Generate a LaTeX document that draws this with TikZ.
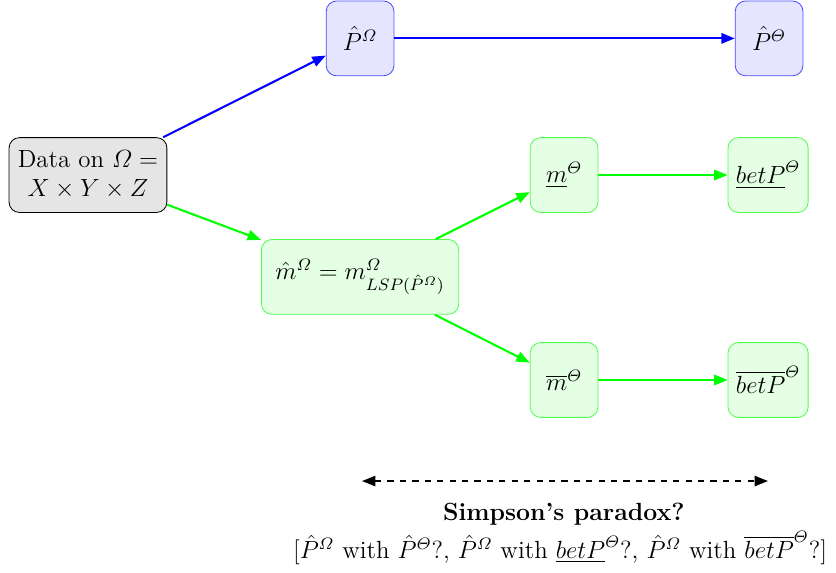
\documentclass[tikz,border=0pt]{standalone}
\usepackage{amsmath}
\usetikzlibrary{arrows.meta, positioning}

\begin{document}
\begin{tikzpicture}[
  on grid,
  every node/.style={font=\large},
  databox/.style={rectangle, rounded corners=5pt, draw, fill=gray!20,
                  minimum width=2.68cm, minimum height=1.27cm, align=center,
                  inner sep=2pt},
  bluebox/.style={rectangle, rounded corners=5pt, draw=blue!70, fill=blue!10,
                  minimum width=1.15cm, minimum height=1.27cm, align=center},
  greenbox/.style={rectangle, rounded corners=5pt, draw=green!70, fill=green!10,
                   minimum width=1.15cm, minimum height=1.27cm, align=center},
  barr/.style={-{Triangle[length=6.5pt, width=5pt]}, blue, line width=1pt},
  garr/.style={-{Triangle[length=6.5pt, width=5pt]}, green, line width=1pt},
]
\useasboundingbox (-1.494,2.972) rectangle (12.701,-6.741);

\node[databox] (data) at (0,0) {Data on $\varOmega =$\\$X \times Y \times Z$};
\node[bluebox, above right=2.32cm and 4.62cm of data] (pomega) {$\hat{P}^{\varOmega}$};
\node[bluebox, right=6.945cm of pomega] (ptheta) {$\hat{P}^{\varTheta}$};
\node[greenbox, below right=1.73cm and 4.62cm of data, minimum width=3.35cm] (mhat)
  {$\hat{m}^{\varOmega} = m^{\varOmega}_{LSP(\hat{P}^{\varOmega})}$};
\node[greenbox, above right=1.73cm and 3.464cm of mhat] (mlow) {$\underline{m}^{\varTheta}$};
\node[greenbox, below right=1.75cm and 3.464cm of mhat] (mup) {$\overline{m}^{\varTheta}$};
\node[greenbox, right=3.464cm of mlow, minimum width=1.36cm] (betlow) {$\underline{betP}^{\varTheta}$};
\node[greenbox, right=3.464cm of mup, minimum width=1.36cm] (betup) {$\overline{betP}^{\varTheta}$};

\draw[barr] (data) -- (pomega);
\draw[barr] (pomega) -- (ptheta);
\draw[garr] (data) -- (mhat);
\draw[garr] (mhat) -- (mlow);
\draw[garr] (mhat) -- (mup);
\draw[garr] (mlow) -- (betlow);
\draw[garr] (mup) -- (betup);

% comparison at the bottom
\coordinate (dl) at (4.653,-5.196);
\coordinate (dr) at (11.546,-5.196);
\draw[{Triangle[length=6.5pt, width=5pt]}-{Triangle[length=6.5pt, width=5pt]},
      dashed, line width=0.8pt] (dl) -- (dr);
\node (simpson) at (8.08,-5.757) {\textbf{Simpson's paradox?}};
\node (queries) at (8.015,-6.333)
  {$[\hat{P}^{\varOmega}$ with $\hat{P}^{\varTheta}?$, $\hat{P}^{\varOmega}$ with
   $\underline{betP}^{\varTheta}?$, $\hat{P}^{\varOmega}$ with $\overline{betP}^{\varTheta}?]$};
\end{tikzpicture}
\end{document}
